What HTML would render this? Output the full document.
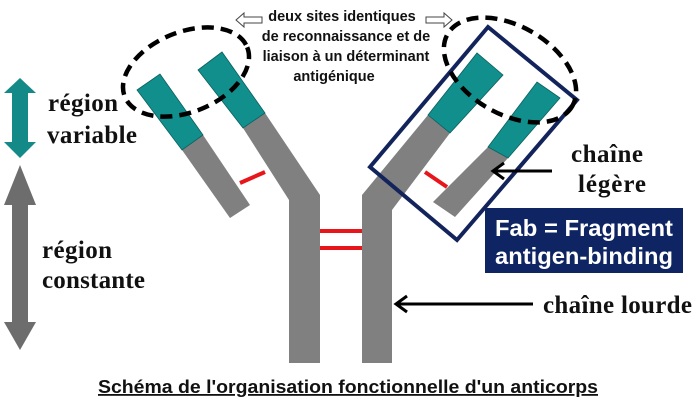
<!DOCTYPE html>
<html><head><meta charset="utf-8"><style>
html,body{margin:0;padding:0;background:#fff;}
svg{display:block}
.s{font-family:"Liberation Serif",serif;font-weight:bold;fill:#111;}
.a{font-family:"Liberation Sans",sans-serif;font-weight:bold;}
</style></head><body>
<svg width="700" height="408" viewBox="0 0 700 408" xmlns="http://www.w3.org/2000/svg">
<rect width="700" height="408" fill="#fff"/>
<polygon points="20,78 36,93 28,93 28,142 36,142 20,158 4,142 12,142 12,93 4,93" fill="#138a88"/>
<polygon points="20,165 36,205 28,205 28,322 36,322 20,350 4,322 12,322 12,205 4,205" fill="#6d6d6d"/>
<text class="s" x="48" y="111" font-size="25" textLength="70">région</text>
<text class="s" x="47" y="143" font-size="25" textLength="90">variable</text>
<text class="s" x="42" y="258" font-size="25" textLength="70">région</text>
<text class="s" x="42" y="288" font-size="25" textLength="103">constante</text>
<g fill="#808080">
<polygon points="243,128 265,113 320,195 320,363 289,363 289,200"/>
<polygon points="182,150 203,135 250,205 230,218"/>
<polygon points="362,195 428,115 450,133 392,210 392,363 362,363"/>
<polygon points="488,147 508,158 455,217 433,202"/>
</g>
<g fill="#118f8c" stroke="#0b5f5e" stroke-width="0.8">
<polygon points="198,70 222,52 265,113 243,128"/>
<polygon points="137,90 160,74 203,135 182,150"/>
<polygon points="428,115 477,53 503,75 450,133"/>
<polygon points="488,147 537,82 560,98 508,158"/>
</g>
<g stroke="#e8161b" stroke-width="4">
<line x1="240" y1="183" x2="265" y2="172"/>
<line x1="425" y1="172" x2="447" y2="187"/>
<line x1="320" y1="231" x2="362" y2="231"/>
<line x1="320" y1="248" x2="362" y2="248"/>
</g>
<polygon points="488,27 577,100 457,240 370,167" fill="none" stroke="#13245c" stroke-width="4"/>
<ellipse cx="186" cy="72" rx="66" ry="40" transform="rotate(-22 186 72)" fill="none" stroke="#000" stroke-width="4.5" stroke-dasharray="12 7"/>
<ellipse cx="510" cy="70" rx="72" ry="44" transform="rotate(30 510 70)" fill="none" stroke="#000" stroke-width="4.5" stroke-dasharray="12 7"/>
<g class="a" font-size="14.5" fill="#111" text-anchor="middle">
<text x="342" y="21">deux sites identiques</text>
<text x="346" y="41">de reconnaissance et de</text>
<text x="346" y="61">liaison à un déterminant</text>
<text x="334" y="81">antigénique</text>
</g>
<polygon points="236,20 244,13 244,17 262,17 262,23 244,23 244,27" fill="#fff" stroke="#444" stroke-width="1"/>
<polygon points="452,20 444,13 444,17 426,17 426,23 444,23 444,27" fill="#fff" stroke="#444" stroke-width="1"/>
<text class="s" x="571" y="162" font-size="25" textLength="72">chaîne</text>
<text class="s" x="578" y="192" font-size="25" textLength="68">légère</text>
<line x1="552" y1="171" x2="494" y2="171" stroke="#000" stroke-width="3"/>
<polyline points="504,163 493,171 504,179" fill="none" stroke="#000" stroke-width="3"/>
<rect x="485" y="208" width="198" height="65" fill="#0f2463"/>
<text class="a" x="584" y="236" font-size="23" fill="#fff" text-anchor="middle" textLength="178" lengthAdjust="spacingAndGlyphs">Fab = Fragment</text>
<text class="a" x="584" y="264" font-size="23" fill="#fff" text-anchor="middle" textLength="178" lengthAdjust="spacingAndGlyphs">antigen-binding</text>
<text class="s" x="543" y="313" font-size="25" textLength="149">chaîne lourde</text>
<line x1="533" y1="304" x2="397" y2="304" stroke="#000" stroke-width="3"/>
<polyline points="407,296 396,304 407,312" fill="none" stroke="#000" stroke-width="3"/>
<text class="a" x="348" y="393" font-size="18" fill="#111" text-anchor="middle" textLength="500" lengthAdjust="spacingAndGlyphs" text-decoration="underline">Schéma de l'organisation fonctionnelle d'un anticorps</text>
</svg>
</body></html>
